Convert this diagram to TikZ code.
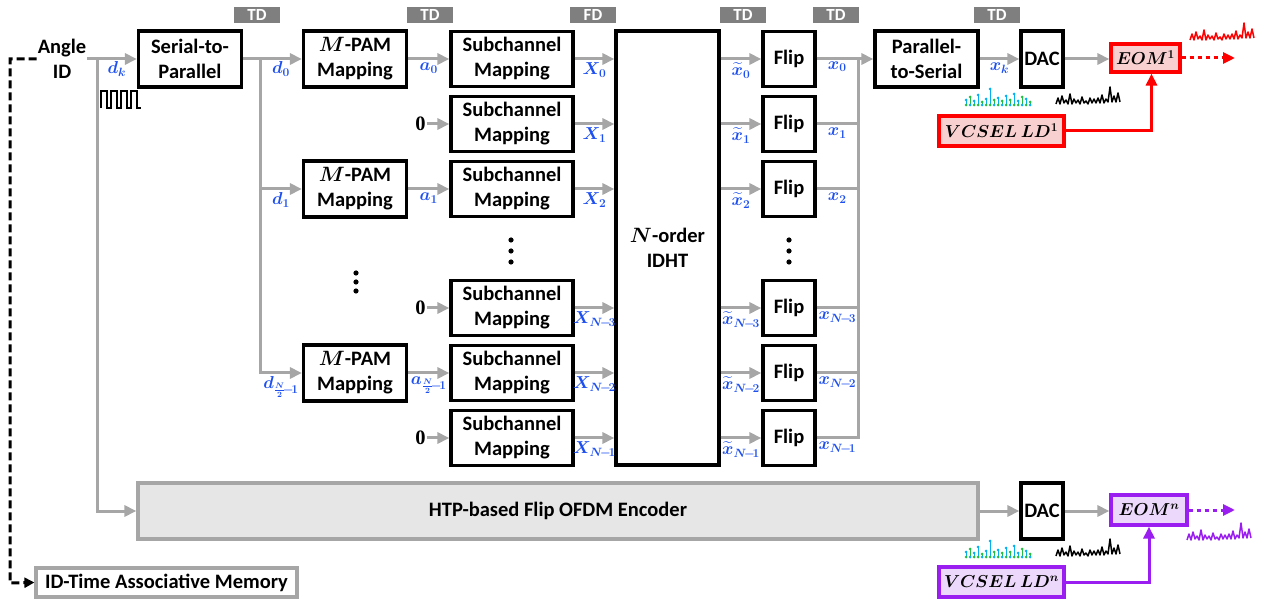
\documentclass[tikz,border=0pt]{standalone}
\usepackage{amsmath, amssymb}
\usepackage{fontspec}
\setmainfont{Carlito}
\newfontfamily\zerofont{Liberation Serif}
\usepackage{tikz}
\usetikzlibrary{arrows.meta, calc}

\definecolor{linegray}{HTML}{A6A6A6}
\definecolor{taggray}{HTML}{7F7F7F}
\definecolor{labblue}{HTML}{1E50F0}
\definecolor{eomred}{HTML}{FF0000}
\definecolor{eomredfill}{HTML}{F9D0D0}
\definecolor{eompurple}{HTML}{9B1EF0}
\definecolor{eompurplefill}{HTML}{EBD8FA}
\definecolor{htpfill}{HTML}{E6E6E6}
\definecolor{stemcyan}{HTML}{00B0F0}
\definecolor{stemgreen}{HTML}{22C040}

\newcommand{\fsz}{\fontsize{20.5}{25}\selectfont}
\newcommand{\lsz}{\fontsize{16.5}{19}\selectfont}

\newcommand{\noisesig}[2]{%
  \draw[#2, line width=1.5pt, line join=round] #1
    -- ++(2,-6) -- ++(2,6) -- ++(2,-8) -- ++(2,7) -- ++(2,-3) -- ++(2,4)
    -- ++(2,-10) -- ++(2,10) -- ++(2,-5) -- ++(2,4) -- ++(2,-3) -- ++(2,4)
    -- ++(2,-7) -- ++(2,6) -- ++(2,-2) -- ++(2,3) -- ++(2,-6) -- ++(2,5)
    -- ++(2,-4) -- ++(2,4) -- ++(2,-5) -- ++(2,5) -- ++(2,-8) -- ++(2,8)
    -- ++(2,-4) -- ++(2,3) -- ++(2,-15) -- ++(2,15) -- ++(2,-6) -- ++(2,6)
    -- ++(2,-9) -- ++(2,9);}

\newcommand{\stemsig}[1]{%
  \begin{scope}[shift={#1}]
    \foreach \sx/\sh/\sc/\bc in {0/4/stemcyan/stemgreen, 4/7/stemgreen/stemcyan,
        8/3/stemcyan/stemgreen, 12/9/stemcyan/stemgreen, 16/2/stemgreen/stemcyan,
        20/5/stemcyan/stemgreen, 24/15/stemcyan/stemgreen, 28/4/stemgreen/stemcyan,
        32/6/stemcyan/stemgreen, 36/3/stemgreen/stemcyan, 40/8/stemcyan/stemgreen,
        44/4/stemgreen/stemcyan, 48/10/stemcyan/stemgreen, 52/3/stemcyan/stemgreen,
        56/7/stemgreen/stemcyan, 60/5/stemcyan/stemgreen, 64/2/stemgreen/stemcyan} {
      \draw[\sc, line width=0.6pt] (\sx,0) -- (\sx,-\sh);
      \fill[\sc] (\sx,-\sh) circle (1.5pt);
      \fill[\bc] (\sx,1) circle (1.5pt);
    }
  \end{scope}}

\tikzset{
  blk/.style={draw=black, line width=3.2pt, fill=white, align=center, font=\fsz\bfseries, inner sep=0pt},
  wblk/.style={blk, minimum width=103pt, minimum height=56pt},
  scblk/.style={blk, minimum width=122pt, minimum height=55pt},
  flipblk/.style={blk, minimum width=52pt, minimum height=55pt},
  dacblk/.style={blk, minimum width=42pt, minimum height=56pt},
  tag/.style={fill=taggray, text=white, font=\fontsize{17}{17}\selectfont\bfseries, minimum width=46pt, minimum height=16pt, inner sep=0pt},
  gline/.style={draw=linegray, line width=3pt},
  garrow/.style={gline, -{Triangle[length=12pt, width=11pt]}},
  lab/.style={text=labblue, font=\lsz\boldmath, inner sep=0.5pt},
  eomone/.style={draw=eomred, fill=eomredfill, line width=3.2pt, font=\fontsize{16.5}{19}\selectfont\boldmath, inner sep=0pt},
  eomen/.style={draw=eompurple, fill=eompurplefill, line width=3.2pt, font=\fontsize{16.5}{19}\selectfont\boldmath, inner sep=0pt},
}

\begin{document}
\begin{tikzpicture}[x=1pt, y=-1pt]
  \useasboundingbox (0,0) rectangle (1264,601);

  % domain tags
  \node[tag] (T1) at (257,15) {TD};
  \node[tag] (T2) at (430,15) {TD};
  \node[tag] (T3) at (593,15) {FD};
  \node[tag] (T4) at (743,15) {TD};
  \node[tag] (T5) at (836,15) {TD};
  \node[tag] (T6) at (997,15) {TD};

  \node[font=\fsz\bfseries, align=center, inner sep=1pt] (AID) at (62,59) {Angle\\ID};
  \node[wblk] (S2P) at (190,59) {Serial-to-\\Parallel};
  \node[wblk] (M0) at (355,59) {$\boldsymbol{M}$-PAM\\Mapping};
  \node[wblk] (M1) at (355,189) {$\boldsymbol{M}$-PAM\\Mapping};
  \node[wblk] (MN) at (355,373) {$\boldsymbol{M}$-PAM\\Mapping};
  \node[blk, minimum width=103pt, minimum height=434pt] (IDHT) at (667.5,248) {$\boldsymbol{N}$-order\\IDHT};
  \node[wblk] (P2S) at (926.5,59) {Parallel-\\to-Serial};
  \node[dacblk] (DAC1) at (1042,59) {DAC};
  \node[eomone, minimum width=69pt, minimum height=28pt] (EOM1) at (1145.5,58) {$EOM^{1}$};
  \node[eomone, minimum width=125pt, minimum height=30pt] (VLD1) at (1001.5,131) {$VCSEL\ LD^{1}$};

  \foreach \i/\y in {0/59, 1/124, 2/189, 3/308, 4/373, 5/438} {
    \node[scblk] (SC\i) at (512,\y) {Subchannel\\Mapping};
    \node[flipblk] (F\i) at (789,\y) {Flip};
  }

  % zero inputs
  \foreach \i in {1,3,5} {
    \node[font=\fsz\zerofont\bfseries, inner sep=1pt] (Z\i) at (SC\i.west) [xshift=-29pt] {0};
    \draw[garrow] (Z\i.east) -- (SC\i.west);
  }

  % vertical dots
  \foreach \d in {273,282,291} \fill (356,\d) circle (2.6pt);
  \foreach \d in {240,251,262} {
    \fill (511,\d) circle (2.6pt);
    \fill (789,\d) circle (2.6pt);
  }

  % serial-to-parallel side
  \coordinate (bus0) at (97,59);
  \coordinate (bus1) at (260,59);
  \draw[garrow] (AID.east) -- (S2P.west);
  \path (bus0) -- (S2P.west) node[lab, midway, below=2pt] {$d_k$};
  \draw[garrow] (S2P.east) -- (M0.west);
  \path (bus1) -- (M0.west) node[lab, midway, below=2pt] {$d_0$};
  \draw[garrow] (bus1) |- (M1.west) node[lab, pos=0.75, below=2pt] {$d_1$};
  \draw[garrow] (bus1) |- (MN.west) node[lab, pos=0.75, below=2pt] {$d_{\frac{N}{2}\!-\!1}$};

  \draw[garrow] (M0) -- (SC0) node[lab, midway, below=2pt] {$a_0$};
  \draw[garrow] (M1) -- (SC2) node[lab, midway, below=2pt] {$a_1$};
  \draw[garrow] (MN) -- (SC4) node[lab, midway, below=2pt] {$a_{\frac{N}{2}\!-\!1}$};

  \foreach \i/\k in {0/0, 1/1, 2/2, 3/N\!-\!3, 4/N\!-\!2, 5/N\!-\!1} {
    \draw[garrow] (SC\i.east) -- (SC\i.east -| IDHT.west) node[lab, midway, below=2pt] {$X_{\k}$};
    \draw[garrow] (IDHT.east |- F\i.west) -- (F\i.west) node[lab, midway, below=2pt] {$\widetilde{x}_{\k}$};
  }

  % parallel-to-serial side
  \coordinate (bus2) at (858,59);
  \draw[garrow] (F0.east) -- (P2S.west);
  \path (F0.east) -- (bus2) node[lab, midway, below=2pt] {$x_0$};
  \foreach \i/\k in {1/1, 2/2, 3/N\!-\!3, 4/N\!-\!2, 5/N\!-\!1}
    \draw[gline] (F\i.east) -| (bus2) node[lab, pos=0.25, below=2pt] {$x_{\k}$};

  \draw[garrow] (P2S) -- (DAC1) node[lab, midway, below=2pt] {$x_k$};
  \draw[garrow] (DAC1) -- (DAC1.east -| EOM1.west);
  \draw[eomred, line width=3pt, -{Triangle[length=12pt, width=11pt]}] (VLD1.east) -| ($(EOM1.south)+(6,0)$);
  \coordinate (out1) at (1235,58);
  \draw[eomred, line width=3pt, dash pattern=on 4pt off 4pt, -{Triangle[length=12pt, width=11pt]}] (EOM1.east) -- (out1);

  % bottom branch
  \node[draw=linegray, fill=htpfill, line width=3.2pt, minimum width=840pt, minimum height=56pt, font=\fsz\bfseries] (HTP) at (558,511) {HTP-based Flip OFDM Encoder};
  \node[dacblk] (DACn) at (1042,511) {DAC};
  \node[eomen, minimum width=76pt, minimum height=30pt] (EOMn) at (1149,510) {$EOM^{n}$};
  \node[eomen, minimum width=125pt, minimum height=30pt] (VLDn) at (1001.5,582) {$VCSEL\ LD^{n}$};
  \node[draw=linegray, fill=white, line width=3.2pt, minimum width=261pt, minimum height=29pt, font=\fsz\bfseries] (IDT) at (166.5,582.5) {ID-Time Associative Memory};

  \draw[garrow] (bus0) |- (HTP.west);
  \draw[garrow] (HTP) -- (DACn);
  \draw[garrow] (DACn.east) -- (DACn.east -| EOMn.west);
  \draw[eompurple, line width=3pt, -{Triangle[length=12pt, width=11pt]}] (VLDn.east) -| (EOMn.south);
  \coordinate (outn) at (1235,510);
  \draw[eompurple, line width=3pt, dash pattern=on 4pt off 4pt, -{Triangle[length=12pt, width=11pt]}] (EOMn.east) -- (outn);

  \coordinate (dcorner) at (10,583);
  \draw[black, line width=3pt, dash pattern=on 8pt off 4pt, -{Triangle[length=10pt, width=10pt]}] (AID.west) -| (dcorner) -- (IDT.west);

  % signal sketches
  \draw[line width=1.2pt] (101,108) foreach \k in {1,...,4} { -- ++(0,-17) -- ++(6,0) -- ++(0,17) -- ++(4,0) };
  \stemsig{(966,104)}
  \noisesig{(1056,104)}{black}
  \noisesig{(1190,40)}{eomred}
  \stemsig{(966,556)}
  \noisesig{(1056,556)}{black}
  \noisesig{(1187,540)}{eompurple}
\end{tikzpicture}
\end{document}
